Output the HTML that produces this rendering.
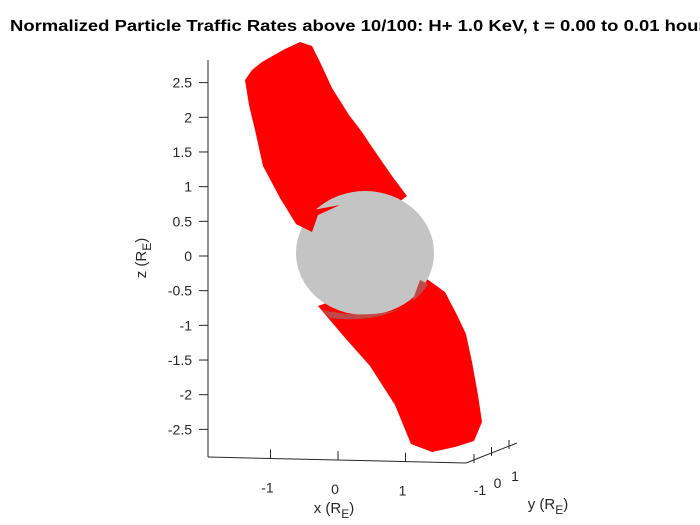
<!DOCTYPE html>
<html><head><meta charset="utf-8"><style>
html,body{margin:0;padding:0;background:#fff;}
svg{display:block;font-family:"Liberation Sans",Arial,sans-serif;}
</style></head><body>
<svg id="chart" width="700" height="525" viewBox="0 0 700 525">
<text x="10" y="31" font-size="16" font-weight="bold" fill="#000" textLength="712" lengthAdjust="spacingAndGlyphs">Normalized Particle Traffic Rates above 10/100: H+ 1.0 KeV, t = 0.00 to 0.01 hours)</text>
<g>
<path d="M245,80 L252,70 L262,62 L283,50 L300,42 L312,46 L320,62 L332,88 L349,115 L362,132 L374,150 L392,176 L407,196 L395,205 L340,205 L312,232 L296,224 L280,198 L263,166 L255,130 L249,105 Z" fill="#ff0000"/>
</g>
<g>
<path d="M318,306 L340,298 L420,274 L445,292 L457,315 L466,334 L472,362 L478,395 L482,422 L474,441 L455,447 L432,452 L411,444 L395,405 L370,366 L346,339 Z" fill="#ff0000"/>
</g>
<ellipse cx="365" cy="253" rx="69" ry="62" fill="#c4c4c4"/>
<path d="M322,310 C350,316 390,318 412,302 L420,280 L428,284 C415,307 380,324 330,318 Z" fill="#c04848"/>
<path d="M312,232 L296,224 L302,212 L340,205 L318,215 Z" fill="#ff0000"/>
<g id="axes" stroke="#262626" stroke-width="1" fill="none"></g>
<g id="labels" font-size="14" fill="#262626"></g>
</svg>
<script>
const zTicks=[2.5,2,1.5,1,0.5,0,-0.5,-1,-1.5,-2,-2.5];
const zTickLabels=["2.5","2","1.5","1","0.5","0","-0.5","-1","-1.5","-2","-2.5"];
const xTicks=[-1,0,1];
const xTickLabels=["-1","0","1"];
const yTicks=[-1,0,1];
const yTickLabels=["-1","0","1"];
const NS="http://www.w3.org/2000/svg";
const axes=document.getElementById('axes'),labels=document.getElementById('labels');
const zY=v=>256-v*69.35;
const xPt=v=>[338+v*67.5,457+(338+v*67.5-208)*6/258];
const yPt=v=>[491.5+v*17.5,456-v*7];
function line(x1,y1,x2,y2,name){const l=document.createElementNS(NS,'line');l.setAttribute('x1',x1);l.setAttribute('y1',y1);l.setAttribute('x2',x2);l.setAttribute('y2',y2);


axes.appendChild(l);}
function text(x,y,s,anchor,name){const t=document.createElementNS(NS,'text');t.setAttribute('x',x);t.setAttribute('y',y);t.setAttribute('text-anchor',anchor);t.textContent=s;


labels.appendChild(t);return t;}
line(208,60,208,457,'z-axis-line');
line(208,457,466,463,'x-axis-line');
line(466,463,517,443,'y-axis-line');
zTicks.forEach((v,i)=>{const y=zY(v);line(208,y,199,y,'z-tick');text(192,y+5,zTickLabels[i],'end','z-tick-label');});
xTicks.forEach((v,i)=>{const p=xPt(v);line(p[0],p[1],p[0],p[1]-9,'x-tick');text(p[0]-3,p[1]+34,xTickLabels[i],'middle','x-tick-label');});
yTicks.forEach((v,i)=>{const p=yPt(v);line(p[0],p[1],p[0],p[1]-9,'y-tick');text(p[0]+6,p[1]+32,yTickLabels[i],'middle','y-tick-label');});
const xl=text(334,513,'','middle','x-axis-title');xl.setAttribute('font-size','15');xl.innerHTML='x (R<tspan font-size="12" dy="5">E</tspan><tspan dy="-5">)</tspan>';
const yl=text(548,509,'','middle','y-axis-title');yl.setAttribute('font-size','15');yl.innerHTML='y (R<tspan font-size="12" dy="5">E</tspan><tspan dy="-5">)</tspan>';
const zl=text(0,0,'','middle','z-axis-title');zl.setAttribute('font-size','15');zl.setAttribute('transform','translate(146,258) rotate(-90)');zl.innerHTML='z (R<tspan font-size="12" dy="5">E</tspan><tspan dy="-5">)</tspan>';
</script>
</body></html>
